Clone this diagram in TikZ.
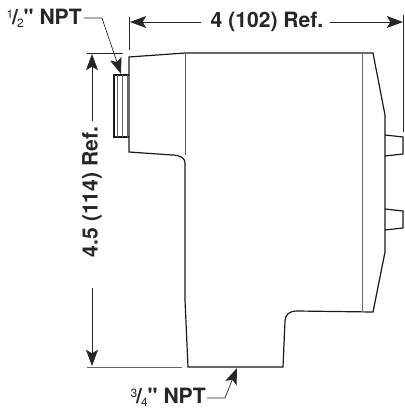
\documentclass[tikz,border=0pt]{standalone}
\usepackage{fontspec}
\newfontfamily\dimfont{TeX Gyre Heros}
\usetikzlibrary{arrows.meta}
\tikzset{
	dimtext/.style = {font=\dimfont\bfseries\fontsize{15}{17}\selectfont, text=black!85, inner sep=0pt},
	dimline/.style = {line width=.5pt, black!85},
	dimarrow/.style = {dimline, -{Stealth[length=11.5pt,width=8.5pt,inset=2.5pt]}},
	outline/.style = {line width=.85pt, black!90},
	inner/.style = {line width=.7pt, black!60},
}
\newcommand{\upfrac}[2]{\raisebox{.5ex}{\fontsize{8.5}{9}\selectfont\mdseries #1}\kern-.05em/\kern-.05em\raisebox{-.25ex}{\fontsize{8.5}{9}\selectfont\mdseries #2}}
\begin{document}
\begin{tikzpicture}[x=.025cm, y=-.025cm]
\useasboundingbox (0,0) rectangle (404,410);
%body
\draw[outline] (129,57) -- (185,53) -- (373,53) -- (385,115) -- (385,252) -- (373,312) -- (297,311)
	.. controls (289,311) and (285,315) .. (285,321) -- (283,367) -- (188,367) -- (185,300) -- (185,163)
	.. controls (185,158) and (180,155) .. (172,155) -- (129,152) -- cycle;
\draw[inner] (185,53) -- (185,155);
\draw[inner] (362,53) -- (362,312);
%buttons
\foreach \y in {135,209}{
	\draw[outline] (385,\y) -- (403,\y+2) -- (403,\y+19) -- (385,\y+21);
	}
%thread
\draw[outline] (129,75) -- (114,75) -- (114,137) -- (129,137);
\foreach \x in {117,122,127}{
	\draw[inner, line width=.4pt] (\x,75) -- (\x,137);
	}
%labels
\node[dimtext] (top) at (267,22) {4 (102) Ref.};
\node[dimtext, rotate=90] (side) at (92,192) {4.5 (114) Ref.};
\node[dimtext, anchor=east] (half) at (82,18) {\upfrac{1}{2}" NPT};
\node[dimtext, anchor=east] (threequarter) at (206,397) {\upfrac{3}{4}" NPT};
%extension lines
\coordinate (lefttop) at (129,17);
\coordinate (leftbot) at (129,50);
\coordinate (righttop) at (403,15);
\coordinate (rightbot) at (403,132);
\coordinate (sidetop) at (87,53);
\coordinate (sidetopend) at (123,53);
\coordinate (sidebot) at (87,367);
\coordinate (sidebotend) at (182,367);
\draw[dimline] (lefttop) -- (leftbot);
\draw[dimline] (righttop) -- (rightbot);
\draw[dimline] (sidetop) -- (sidetopend);
\draw[dimline, black!60, line width=.6pt] (sidebot) -- (sidebotend);
%dimension arrows
\draw[dimarrow] (top.west) ++(-9,0) -- (130,22);
\draw[dimarrow] (top.east) ++(6,0) -- (403,22);
\draw[dimarrow] (side.east) ++(0,-6) -- (92,54);
\draw[dimarrow] (side.west) ++(0,31) -- (92,366);
%leaders
\coordinate (halftip) at (121,74);
\coordinate (threetip) at (237,368);
\draw[dimarrow] (half.east) ++(2,0) -- (102,18) -- (halftip);
\draw[dimarrow] (threequarter.east) ++(1,1) -- (225,398) -- (threetip);
\end{tikzpicture}
\end{document}
